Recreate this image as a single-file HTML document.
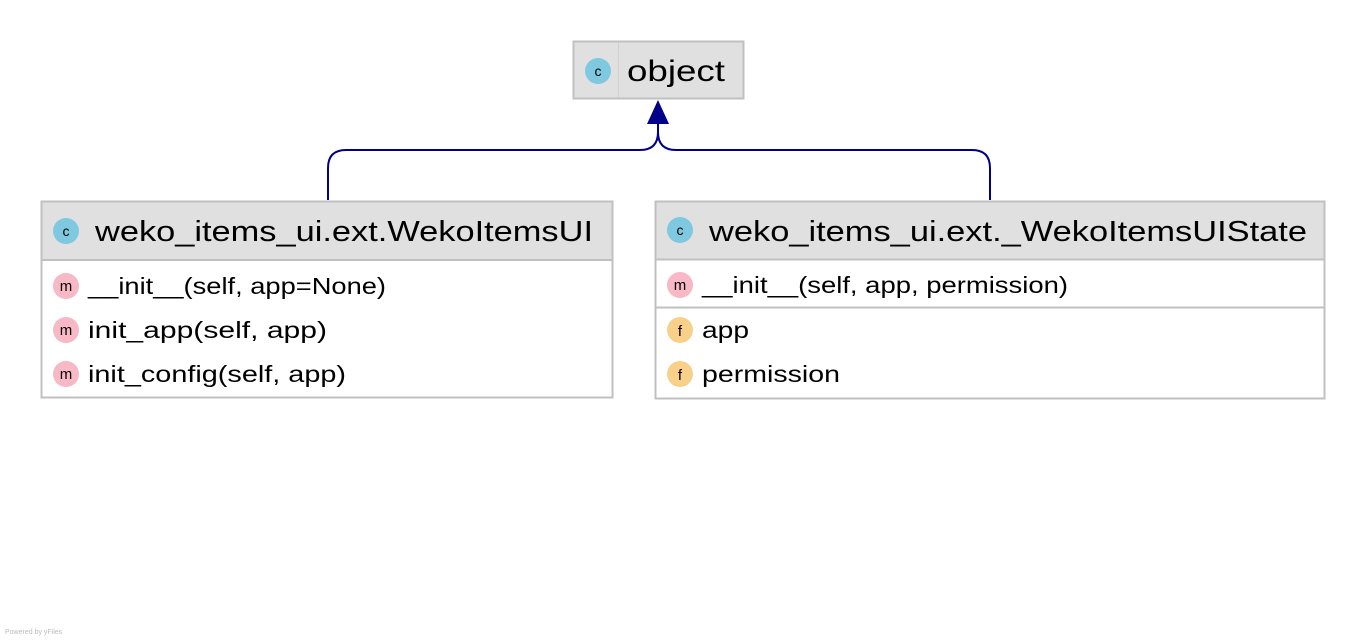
<!DOCTYPE html>
<html><head><meta charset="utf-8"><style>
html,body{margin:0;padding:0;background:#fff;width:1366px;height:640px;overflow:hidden}
text{font-family:"Liberation Sans","DejaVu Sans",sans-serif;fill:#000}
</style></head><body>
<svg width="1366" height="640" viewBox="0 0 1366 640" xmlns="http://www.w3.org/2000/svg">
<!-- connectors -->
<path d="M328 200 V168 Q328 150 346 150 H640 Q658 150 658 132 V120 M658 132 Q658 150 676 150 H972 Q990 150 990 168 V200" fill="none" stroke="#000088" stroke-width="2"/>
<polygon points="658,100 647,124 669,124" fill="#000088"/>
<!-- object -->
<rect x="573.5" y="41.5" width="170" height="57" fill="#e0e0e0" stroke="#c0c0c0" stroke-width="2"/>
<line x1="618.5" y1="42" x2="618.5" y2="98" stroke="#d0d0d0"/>
<circle cx="598" cy="71" r="13" fill="#7ec8e0"/>
<text x="598" y="76" font-size="14" text-anchor="middle" fill="#333">c</text>
<text x="627" y="81" font-size="30" textLength="98" lengthAdjust="spacingAndGlyphs">object</text>
<!-- left box -->
<rect x="41.5" y="201.5" width="571" height="196" fill="#fff" stroke="#c0c0c0" stroke-width="2"/>
<rect x="42.5" y="202.5" width="569" height="57" fill="#e0e0e0"/>
<line x1="42" y1="260" x2="612" y2="260" stroke="#c0c0c0" stroke-width="2"/>
<circle cx="66" cy="231" r="13" fill="#7ec8e0"/>
<text x="66" y="236" font-size="14" text-anchor="middle" fill="#333">c</text>
<text x="95" y="241" font-size="29" textLength="498" lengthAdjust="spacingAndGlyphs">weko_items_ui.ext.WekoItemsUI</text>
<circle cx="66" cy="286" r="13" fill="#f8b8c6"/><text x="66" y="291" font-size="15" text-anchor="middle" fill="#333">m</text>
<text x="88" y="294" font-size="23" textLength="298" lengthAdjust="spacingAndGlyphs">__init__(self, app=None)</text>
<circle cx="66" cy="330" r="13" fill="#f8b8c6"/><text x="66" y="335" font-size="15" text-anchor="middle" fill="#333">m</text>
<text x="88" y="338" font-size="23" textLength="239" lengthAdjust="spacingAndGlyphs">init_app(self, app)</text>
<circle cx="66" cy="374" r="13" fill="#f8b8c6"/><text x="66" y="379" font-size="15" text-anchor="middle" fill="#333">m</text>
<text x="88" y="382" font-size="23" textLength="258" lengthAdjust="spacingAndGlyphs">init_config(self, app)</text>
<!-- right box -->
<rect x="655.5" y="201.5" width="669" height="197" fill="#fff" stroke="#c0c0c0" stroke-width="2"/>
<rect x="656.5" y="202.5" width="667" height="56" fill="#e0e0e0"/>
<line x1="656" y1="259.5" x2="1324" y2="259.5" stroke="#c0c0c0" stroke-width="2"/>
<line x1="656" y1="307.5" x2="1324" y2="307.5" stroke="#c0c0c0" stroke-width="2"/>
<circle cx="680" cy="230" r="13" fill="#7ec8e0"/>
<text x="680" y="235" font-size="14" text-anchor="middle" fill="#333">c</text>
<text x="709" y="241" font-size="29" textLength="598" lengthAdjust="spacingAndGlyphs">weko_items_ui.ext._WekoItemsUIState</text>
<circle cx="680" cy="285" r="13" fill="#f8b8c6"/><text x="680" y="290" font-size="15" text-anchor="middle" fill="#333">m</text>
<text x="702" y="293" font-size="23" textLength="366" lengthAdjust="spacingAndGlyphs">__init__(self, app, permission)</text>
<circle cx="680" cy="330" r="13" fill="#f8d08a"/><text x="680" y="336" font-size="15" text-anchor="middle" fill="#333">f</text>
<text x="702" y="338" font-size="23" textLength="47" lengthAdjust="spacingAndGlyphs">app</text>
<circle cx="680" cy="374" r="13" fill="#f8d08a"/><text x="680" y="380" font-size="15" text-anchor="middle" fill="#333">f</text>
<text x="702" y="382" font-size="23" textLength="138" lengthAdjust="spacingAndGlyphs">permission</text>
<text x="5" y="634" font-size="7" fill="#bbb" style="fill:#bbb">Powered by yFiles</text>
</svg>
</body></html>
